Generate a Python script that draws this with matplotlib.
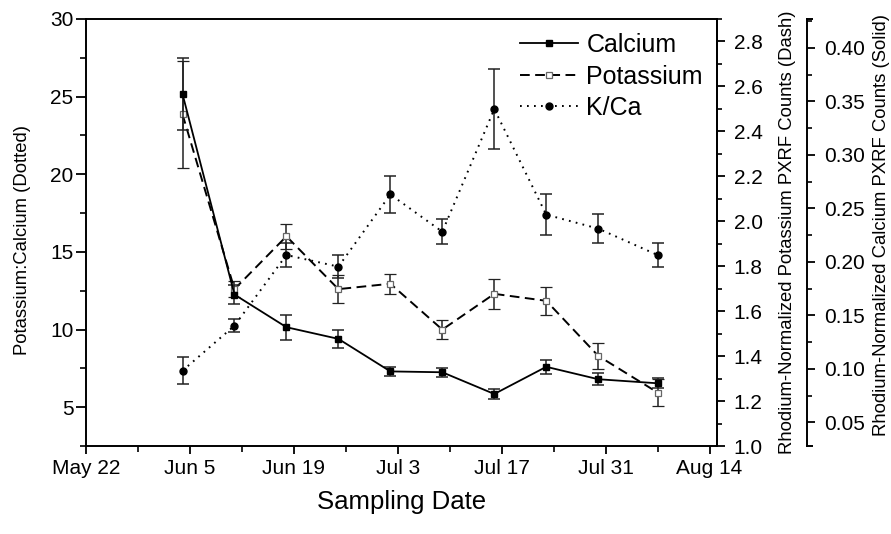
import matplotlib
matplotlib.use('Agg')
import matplotlib.pyplot as plt
import matplotlib.dates as mdates
import numpy as np
from matplotlib.lines import Line2D
from matplotlib.ticker import FixedLocator, MultipleLocator, FormatStrFormatter

plt.rcParams['font.family'] = ['Liberation Sans', 'DejaVu Sans']

# ---------------- data ----------------
sample_dates = ['2011-06-04', '2011-06-11', '2011-06-18', '2011-06-25', '2011-07-02',
                '2011-07-09', '2011-07-16', '2011-07-23', '2011-07-30', '2011-08-07']
kca = [7.35, 10.25, 14.8, 14.05, 18.7, 16.3, 24.2, 17.4, 16.5, 14.8]
kca_err = [0.88, 0.43, 0.75, 0.75, 1.2, 0.8, 2.6, 1.3, 0.95, 0.8]
potassium = [2.476, 1.698, 1.933, 1.698, 1.722, 1.518, 1.677, 1.646, 1.401, 1.238]
potassium_err = [0.238, 0.035, 0.055, 0.062, 0.045, 0.041, 0.066, 0.062, 0.059, 0.062]
calcium = [0.3569, 0.1695, 0.139, 0.1281, 0.0977, 0.0969, 0.0766, 0.102, 0.0904, 0.0866]
calcium_err = [0.0334, 0.0087, 0.0116, 0.0087, 0.0044, 0.0044, 0.0044, 0.0065, 0.0055, 0.0046]

xtick_dates = ['2011-05-22', '2011-06-05', '2011-06-19', '2011-07-03',
               '2011-07-17', '2011-07-31', '2011-08-14']
xtick_labels = ['May 22', 'Jun 5', 'Jun 19', 'Jul 3', 'Jul 17', 'Jul 31', 'Aug 14']
series_labels = ['Calcium', 'Potassium', 'K/Ca']

# ---------------- figure ----------------
W, H = 891, 534
fig = plt.figure(figsize=(W / 100, H / 100), dpi=100)
L, R, T, B = 86, 717, 19, 446
ax = fig.add_axes([L / W, 1 - B / H, (R - L) / W, (B - T) / H])
ax2 = ax.twinx()
ax3 = ax.twinx()

x = mdates.date2num(np.array(sample_dates, dtype='datetime64[D]'))
xt = mdates.date2num(np.array(xtick_dates, dtype='datetime64[D]'))

ecol = '#222222'
lw = 1.3

# K/Ca dotted (left axis)
ax.errorbar(x, kca, yerr=kca_err, color='black', ecolor=ecol, elinewidth=1.1,
            capsize=4, capthick=1.1, marker='o', ms=5, mfc='black', mec='black',
            lw=1.4, dashes=[0.9, 2.7], zorder=3)
# Potassium dashed (right axis)
ax2.errorbar(x, potassium, yerr=potassium_err, color='black', ecolor=ecol, elinewidth=1.1,
             capsize=4, capthick=1.1, marker='s', ms=4.5, mfc='white', mec='#666666',
             mew=0.9, lw=1.4, dashes=[5.0, 2.8], zorder=3)
# Calcium solid (third axis)
ax3.errorbar(x, calcium, yerr=calcium_err, color='black', ecolor=ecol, elinewidth=1.1,
             capsize=4, capthick=1.1, marker='s', ms=4.5, mfc='black', mec='black',
             lw=lw, ls='-', zorder=3)

# ---------------- axes ----------------
x0 = mdates.date2num(np.datetime64('2011-05-22'))
x1 = mdates.date2num(np.datetime64('2011-08-15'))
ax.set_xlim(x0, x1)
ax.xaxis.set_major_locator(FixedLocator(xt))
ax.set_xticklabels(xtick_labels)
ax.xaxis.set_minor_locator(FixedLocator(np.arange(x0, x1, 7)))

ax.set_ylim(2.5, 30)
ax.yaxis.set_major_locator(FixedLocator([5, 10, 15, 20, 25, 30]))
ax.yaxis.set_minor_locator(MultipleLocator(2.5))

ax2.set_ylim(1.0, 2.9)
ax2.yaxis.set_major_locator(FixedLocator(np.round(np.arange(1.0, 2.81, 0.2), 1)))
ax2.yaxis.set_minor_locator(MultipleLocator(0.1))
ax2.yaxis.set_major_formatter(FormatStrFormatter('%.1f'))

ax3.set_ylim(0.028, 0.427)
ax3.yaxis.set_major_locator(FixedLocator(np.round(np.arange(0.05, 0.401, 0.05), 2)))
ax3.yaxis.set_minor_locator(MultipleLocator(0.025))
ax3.yaxis.set_major_formatter(FormatStrFormatter('%.2f'))

spw = 1.4
for s in ax.spines.values():
    s.set_linewidth(spw)
for s in ['top', 'left', 'bottom']:
    ax2.spines[s].set_visible(False)
    ax3.spines[s].set_visible(False)
ax2.spines['right'].set_linewidth(spw)
off = (807 - L) / (R - L)
ax3.spines['right'].set_position(('axes', off))
ax3.spines['right'].set_linewidth(spw)

ax.tick_params(axis='x', which='major', direction='out', length=6, width=1.3, labelsize=15, pad=3, top=False)
ax.tick_params(axis='x', which='minor', direction='out', length=4, width=1.2, top=False)
ax.tick_params(axis='y', which='major', direction='out', length=7, width=1.3, labelsize=15, pad=2, right=False)
ax.tick_params(axis='y', which='minor', direction='out', length=4.5, width=1.2, right=False)
for a in (ax2, ax3):
    a.tick_params(axis='y', which='major', direction='out', length=6, width=1.3, labelsize=15, pad=6)
    a.tick_params(axis='y', which='minor', direction='out', length=3.5, width=1.2)

# bracket end caps on third axis
cap = 6 / (R - L)
for yy in (0, 1):
    ax3.add_line(Line2D([off - 0.0008, off + cap], [yy, yy], transform=ax3.transAxes,
                        color='black', lw=spw, clip_on=False, solid_capstyle='butt'))

# ---------------- labels ----------------
fig.text(23 / W, 1 - 240 / H, 'Potassium:Calcium (Dotted)', rotation=90,
         ha='center', va='center', fontsize=13.3)
fig.text(787 / W, 1 - 232 / H, 'Rhodium-Normalized Potassium PXRF Counts (Dash)', rotation=90,
         ha='center', va='center', fontsize=13.3)
fig.text(881 / W, 1 - 225 / H, 'Rhodium-Normalized Calcium PXRF Counts (Solid)', rotation=90,
         ha='center', va='center', fontsize=13.3)
fig.text((L + R) / 2 / W, 1 - 502 / H, 'Sampling Date', ha='center', va='center', fontsize=18.5)

# ---------------- legend ----------------
handles = [
    Line2D([], [], color='black', lw=lw, ls='-', marker='s', ms=4.5, mfc='black', mec='black'),
    Line2D([], [], color='black', lw=1.4, dashes=[5.0, 2.8], marker='s', ms=4.5, mfc='white', mec='#666666', mew=0.9),
    Line2D([], [], color='black', lw=1.4, dashes=[0.9, 2.7], marker='o', ms=5, mfc='black', mec='black'),
]
leg = ax3.legend(handles, series_labels, loc='upper left',
                 bbox_to_anchor=((520 - L) / (R - L), (B - 33) / (B - T)),
                 frameon=False, fontsize=18, handlelength=2.3, handletextpad=0.35,
                 labelspacing=0.3, borderpad=0, borderaxespad=0)

fig.savefig('out.png', dpi=100)
